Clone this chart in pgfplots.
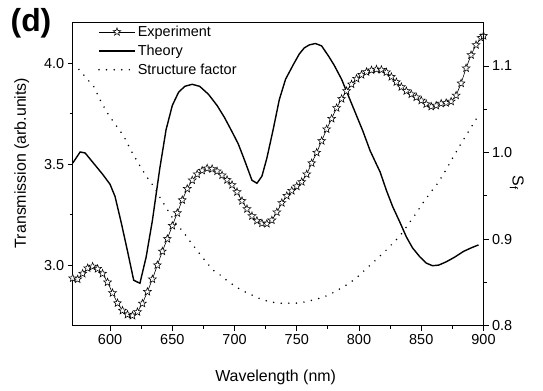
\documentclass[border=0pt]{standalone}
\usepackage{fontspec}
\setmainfont{Liberation Sans}
\usepackage{pgfplots}
\pgfplotsset{compat=1.18}

\pgfdeclareplotmark{ostar}{%
  \pgfpathmoveto{\pgfpointpolar{90}{\pgfplotmarksize}}%
  \pgfpathlineto{\pgfpointpolar{126}{0.42\pgfplotmarksize}}%
  \pgfpathlineto{\pgfpointpolar{162}{\pgfplotmarksize}}%
  \pgfpathlineto{\pgfpointpolar{198}{0.42\pgfplotmarksize}}%
  \pgfpathlineto{\pgfpointpolar{234}{\pgfplotmarksize}}%
  \pgfpathlineto{\pgfpointpolar{270}{0.42\pgfplotmarksize}}%
  \pgfpathlineto{\pgfpointpolar{306}{\pgfplotmarksize}}%
  \pgfpathlineto{\pgfpointpolar{342}{0.42\pgfplotmarksize}}%
  \pgfpathlineto{\pgfpointpolar{18}{\pgfplotmarksize}}%
  \pgfpathlineto{\pgfpointpolar{54}{0.42\pgfplotmarksize}}%
  \pgfpathclose
  \pgfusepathqfillstroke
}

\pgfplotstableread{
x y
570 2.935
574 2.93
578 2.958
582 2.985
586 2.993
590 2.982
594 2.958
598 2.915
602 2.862
606 2.812
610 2.775
614 2.755
618 2.75
622 2.768
626 2.81
630 2.868
634 2.93
638 3.0
642 3.068
646 3.13
650 3.195
654 3.258
658 3.322
662 3.378
666 3.42
670 3.45
674 3.468
678 3.479
682 3.476
686 3.465
690 3.445
694 3.422
698 3.397
702 3.362
706 3.318
710 3.278
714 3.243
718 3.22
722 3.207
726 3.205
730 3.222
734 3.262
738 3.308
742 3.343
746 3.368
750 3.39
754 3.412
758 3.45
762 3.505
766 3.557
770 3.615
774 3.673
778 3.725
782 3.778
786 3.823
790 3.862
794 3.895
798 3.923
802 3.942
806 3.956
810 3.965
814 3.969
818 3.967
822 3.955
826 3.932
830 3.906
834 3.882
838 3.862
842 3.846
846 3.831
850 3.815
854 3.797
858 3.785
862 3.79
866 3.8
870 3.803
874 3.81
878 3.84
882 3.9
886 3.975
890 4.04
894 4.09
898 4.125
900 4.135
}\experiment

\pgfplotstableread{
x y
570 3.505
576 3.56
580 3.555
586 3.51
594 3.45
600 3.40
604 3.34
609 3.21
614 3.07
619 2.925
624 2.91
629 3.04
634 3.22
640 3.48
645 3.67
650 3.79
655 3.855
660 3.885
666 3.895
672 3.885
679 3.846
686 3.79
692 3.73
698 3.66
703 3.60
708 3.52
714 3.42
718 3.405
722 3.44
726 3.53
731 3.67
736 3.82
741 3.92
747 3.99
752 4.045
756 4.075
760 4.09
765 4.097
770 4.085
776 4.03
780 3.99
786 3.92
792 3.83
798 3.74
803 3.665
809 3.565
817 3.46
822 3.37
827 3.29
833 3.21
838 3.14
843 3.085
849 3.04
854 3.01
859 2.997
864 3.0
870 3.016
877 3.04
884 3.068
890 3.085
896 3.10
}\theory

\pgfplotstableread{
x y
575 1.096
581 1.086
587 1.076
593 1.058
599 1.043
605 1.031
611 1.019
617 1.002
623 0.987
629 0.973
635 0.961
641 0.946
647 0.932
653 0.918
659 0.908
665 0.896
671 0.885
677 0.874
683 0.864
689 0.858
695 0.851
701 0.845
707 0.840
713 0.836
719 0.832
725 0.829
731 0.827
737 0.826
743 0.826
749 0.826
755 0.827
761 0.829
767 0.831
773 0.834
779 0.838
785 0.843
791 0.848
797 0.854
803 0.862
809 0.870
815 0.878
821 0.886
827 0.895
833 0.904
839 0.916
845 0.928
851 0.941
857 0.953
863 0.964
869 0.978
875 0.993
881 1.008
887 1.022
893 1.036
897 1.046
}\sfactor

\tikzset{sfstyle/.style={black, line width=1.7bp, line cap=round, dash pattern=on 0pt off 7.6bp}}

\pgfplotsset{
  common/.style={
    scale only axis, width=410.8bp, height=303bp,
    xmin=570, xmax=900,
    tick align=outside,
    major tick length=5bp, minor tick length=3bp,
    every tick/.style={black, line width=0.9bp},
    axis line style={line width=1.1bp},
    /pgf/number format/assume math mode=true,
    ticklabel style={font=\fontsize{14.5}{16}\selectfont},
    legend image code/.code={\draw[mark repeat=2,mark phase=2,##1] plot coordinates {(0bp,0bp) (18bp,0bp) (36bp,0bp)};},
  }
}

\begin{document}
\begin{tikzpicture}
\begin{axis}[common,
  ymin=2.7, ymax=4.2,
  xtick={600,650,...,900}, minor x tick num=1,
  ytick={3.0,3.5,4.0}, minor y tick num=1,
  xtick pos=bottom, ytick pos=left,
  yticklabel style={/pgf/number format/.cd, fixed, fixed zerofill, precision=1},
  xticklabel style={/pgf/number format/.cd, fixed, 1000 sep={}},
  xlabel={Wavelength (nm)}, ylabel={Transmission (arb.units)},
  every axis x label/.style={at={(axis description cs:0.494,-0.172)}, anchor=center, font=\fontsize{16}{18}\selectfont},
  every axis y label/.style={at={(axis description cs:-0.124,0.537)}, anchor=center, rotate=90, font=\fontsize{16}{18}\selectfont},
  legend style={at={(axis description cs:0.059,1.0)}, anchor=north west, draw=none, fill=none,
    font=\fontsize{14.5}{16}\selectfont, row sep=3bp, inner sep=1bp},
  legend cell align=left,
]
\addplot[black, line width=0.6bp, mark=ostar, mark size=4.1bp, mark options={solid, fill=white, line width=0.55bp}] table[x=x,y=y] {\experiment};
\addlegendentry{Experiment}
\addplot[black, line width=1.4bp] table[x=x,y=y] {\theory};
\addlegendentry{Theory}
\addlegendimage{sfstyle}
\addlegendentry{Structure factor}
\end{axis}
\begin{axis}[common,
  ymin=0.8, ymax=1.15,
  axis x line=none,
  axis y line*=right,
  ytick={0.8,0.9,1.0,1.1}, minor y tick num=1,
  yticklabel style={/pgf/number format/.cd, fixed, fixed zerofill, precision=1},
  ylabel={S\textsubscript{f}},
  every axis y label/.style={at={(axis description cs:1.081,0.471)}, anchor=center, rotate=-90, font=\fontsize{16}{18}\selectfont},
]
\addplot[sfstyle] table[x=x,y=y] {\sfactor};
\end{axis}
\node[font=\bfseries\fontsize{32}{34}\selectfont, anchor=center] at ([shift={(-41.7bp,302bp)}]current axis.south west) {(d)};
\path ([shift={(-72.7bp,-65.3bp)}]current axis.south west) rectangle ([shift={(470.3bp,325.7bp)}]current axis.south west);
\end{tikzpicture}
\end{document}
